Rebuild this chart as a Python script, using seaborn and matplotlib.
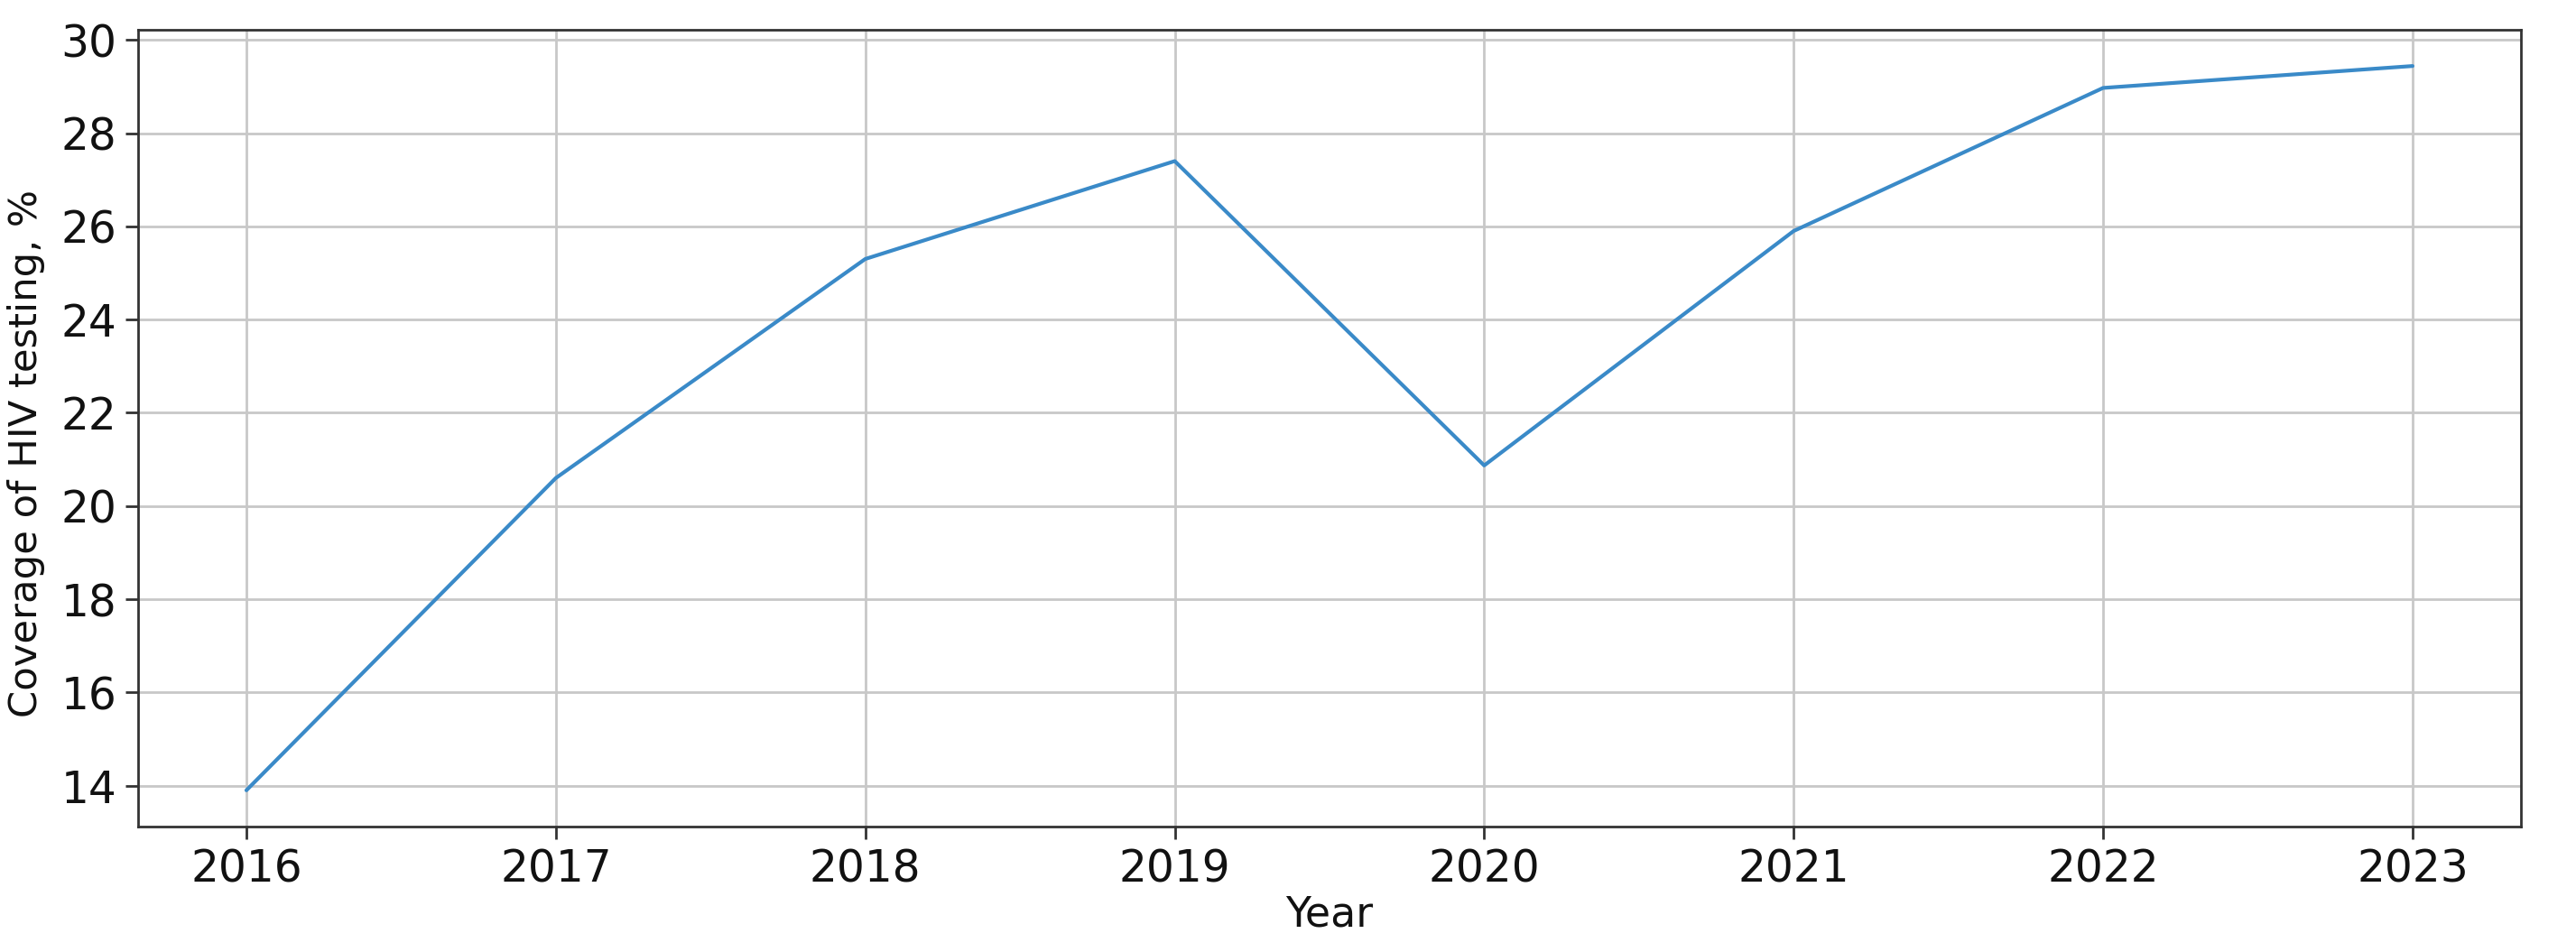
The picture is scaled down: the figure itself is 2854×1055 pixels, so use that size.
import numpy as np
import pandas as pd
import seaborn as sns
import matplotlib
matplotlib.use('Agg')
import matplotlib.pyplot as plt

# coverage of HIV testing by year
years = [2016, 2017, 2018, 2019, 2020, 2021, 2022, 2023]
coverage = [13.9, 20.6, 25.3, 27.4, 20.87, 25.9, 28.97, 29.44]

df = pd.DataFrame({'Year': years, 'coverage': coverage})

sns.set_style('white')
plt.rcParams['font.family'] = ['DejaVu Sans']
plt.rcParams['font.size'] = 16

fig, ax = plt.subplots(figsize=(14.27, 5.275), dpi=200)
fig.subplots_adjust(left=0.0536, right=0.9786, top=0.9687, bottom=0.1318)

sns.lineplot(data=df, x='Year', y='coverage', ax=ax, color='#3a8ac8', linewidth=1.5)

ax.set_xticks(years)
ax.set_yticks(np.arange(14, 31, 2))
ax.tick_params(axis='both', labelsize=17.5, length=5, width=1, color='#333333', direction='out',
               bottom=True, left=True, labelcolor='#111111')
ax.grid(True, color='#c8c8c8', linewidth=1.0)
for s in ax.spines.values():
    s.set_color('#333333')
    s.set_linewidth(1.0)

ax.set_xlabel('Year', fontsize=16.5, color='#111111')
ax.set_ylabel('Coverage of HIV testing, %', fontsize=15.6, color='#111111')
ax.xaxis.set_label_coords(0.5, -0.085)
ax.yaxis.set_label_coords(-0.039, 0.468)

fig.savefig('out.png', dpi=200)
